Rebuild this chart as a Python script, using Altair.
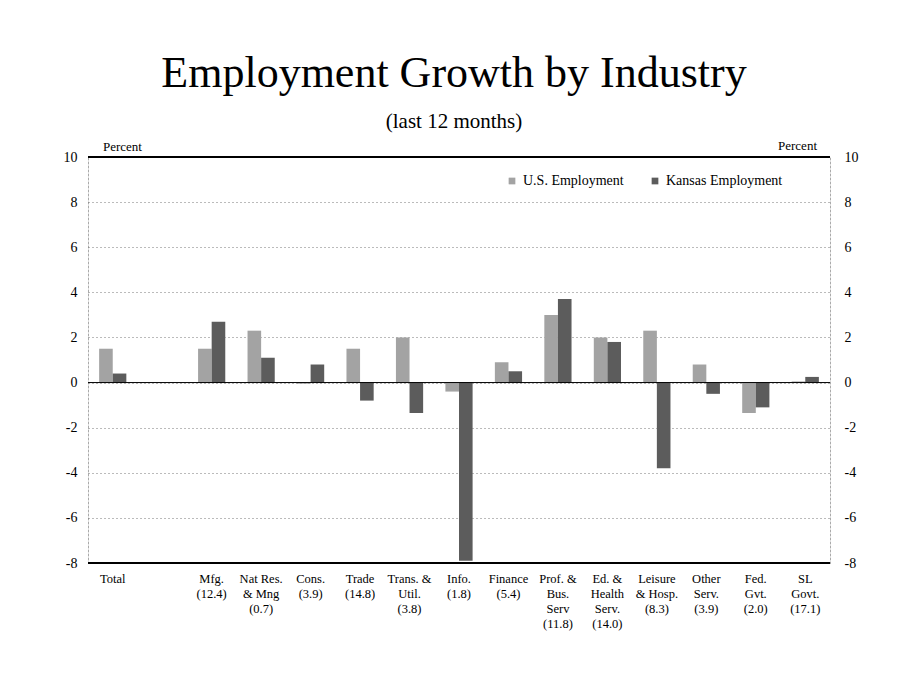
import altair as alt
import pandas as pd

# ---- data ----
categories = [
    "Total", "gap", "Mfg.|(12.4)", "Nat Res.|& Mng|(0.7)", "Cons.|(3.9)",
    "Trade|(14.8)", "Trans. &|Util.|(3.8)", "Info.|(1.8)", "Finance|(5.4)",
    "Prof. &|Bus.|Serv|(11.8)", "Ed. &|Health|Serv.|(14.0)",
    "Leisure|& Hosp.|(8.3)", "Other|Serv.|(3.9)", "Fed.|Gvt.|(2.0)",
    "SL|Govt.|(17.1)",
]
bar_categories = [c for c in categories if c != "gap"]
us_values = [1.5, 1.5, 2.3, -0.05, 1.5, 2.0, -0.4, 0.9, 3.0, 2.0, 2.3, 0.8, -1.35, 0.05]
ks_values = [0.4, 2.7, 1.1, 0.8, -0.8, -1.35, -7.9, 0.5, 3.7, 1.8, -3.8, -0.5, -1.1, 0.25]
series = ["U.S. Employment", "Kansas Employment"]
series_colors = ["#a3a3a3", "#5c5c5c"]
y_ticks = [10, 8, 6, 4, 2, 0, -2, -4, -6, -8]
solid_lines = [10, 0, -8]

rows = []
for c, u, k in zip(bar_categories, us_values, ks_values):
    rows.append({"cat": c, "series": series[0], "value": u})
    rows.append({"cat": c, "series": series[1], "value": k})
df = pd.DataFrame(rows)
rules_df = pd.DataFrame({"y": solid_lines, "w": [2, 1, 2]})
pct_df = pd.DataFrame({"t": ["Percent"]})

FONT = "Liberation Serif"
yscale = alt.Scale(domain=[-8, 10], nice=False, zero=False)

bars = alt.Chart(df).mark_bar().encode(
    x=alt.X(
        "cat:N",
        sort=categories,
        scale=alt.Scale(domain=categories, paddingInner=0.45, paddingOuter=0.225),
        axis=alt.Axis(
            title=None, labelAngle=0, domain=False, ticks=False,
            labelExpr="datum.label == 'gap' ? '' : split(datum.label, '|')",
            labelFont=FONT, labelFontSize=12.5, labelColor="black",
            labelLineHeight=15, labelPadding=9, labelBaseline="top",
        ),
    ),
    xOffset=alt.XOffset("series:N", sort=series,
                        scale=alt.Scale(domain=series, paddingInner=0, paddingOuter=0)),
    y=alt.Y(
        "value:Q", scale=yscale,
        axis=alt.Axis(
            orient="left", title=None, values=y_ticks, ticks=False,
            labelExpr="'' + datum.value", labelFont=FONT, labelFontSize=14,
            labelColor="black", labelPadding=11,
            domainColor="#777777", domainDash=[1, 3], domainWidth=1,
            grid=True, gridColor="#777777", gridDash=[1, 3], gridWidth=1,
        ),
    ),
    color=alt.Color(
        "series:N",
        scale=alt.Scale(domain=series, range=series_colors),
        legend=alt.Legend(
            title=None, orient="none", legendX=417, legendY=17,
            direction="horizontal", symbolType="square", symbolSize=45,
            symbolStrokeWidth=0, labelFont=FONT, labelFontSize=14,
            labelColor="black", columnPadding=24, labelOffset=4,
        ),
    ),
)

rules = alt.Chart(rules_df).mark_rule(color="black").encode(
    y=alt.Y(
        "y:Q", scale=yscale,
        axis=alt.Axis(
            orient="right", title=None, values=y_ticks, ticks=False,
            labelExpr="'' + datum.value", labelFont=FONT, labelFontSize=14,
            labelColor="black", labelPadding=14,
            domainColor="#777777", domainDash=[1, 3], domainWidth=1, grid=False,
        ),
    ),
    strokeWidth=alt.StrokeWidth("w:Q", scale=None, legend=None),
)

pct_left = alt.Chart(pct_df).mark_text(
    font=FONT, fontSize=13, align="left", baseline="alphabetic", color="black"
).encode(x=alt.value(15), y=alt.value(-6), text="t:N")

pct_right = alt.Chart(pct_df).mark_text(
    font=FONT, fontSize=13, align="right", baseline="alphabetic", color="black"
).encode(x=alt.value(729), y=alt.value(-7), text="t:N")

chart = alt.layer(bars, rules, pct_left, pct_right).resolve_axis(
    y="independent"
).properties(
    width=742,
    height=406,
    autosize=alt.AutoSizeParams(type="none"),
    padding={"left": 80, "top": 149, "right": 58, "bottom": 120},
    title=alt.TitleParams(
        text="Employment Growth by Industry",
        subtitle="(last 12 months)",
        anchor="middle", font=FONT, fontSize=44, fontWeight="normal",
        color="black", subtitleFont=FONT, subtitleFontSize=21,
        subtitleColor="black", subtitlePadding=15, offset=8, dx=-5,
    ),
).configure_view(stroke=None).configure(background="white")

chart.save("out.html", embed_options={"renderer": "svg", "actions": False})
